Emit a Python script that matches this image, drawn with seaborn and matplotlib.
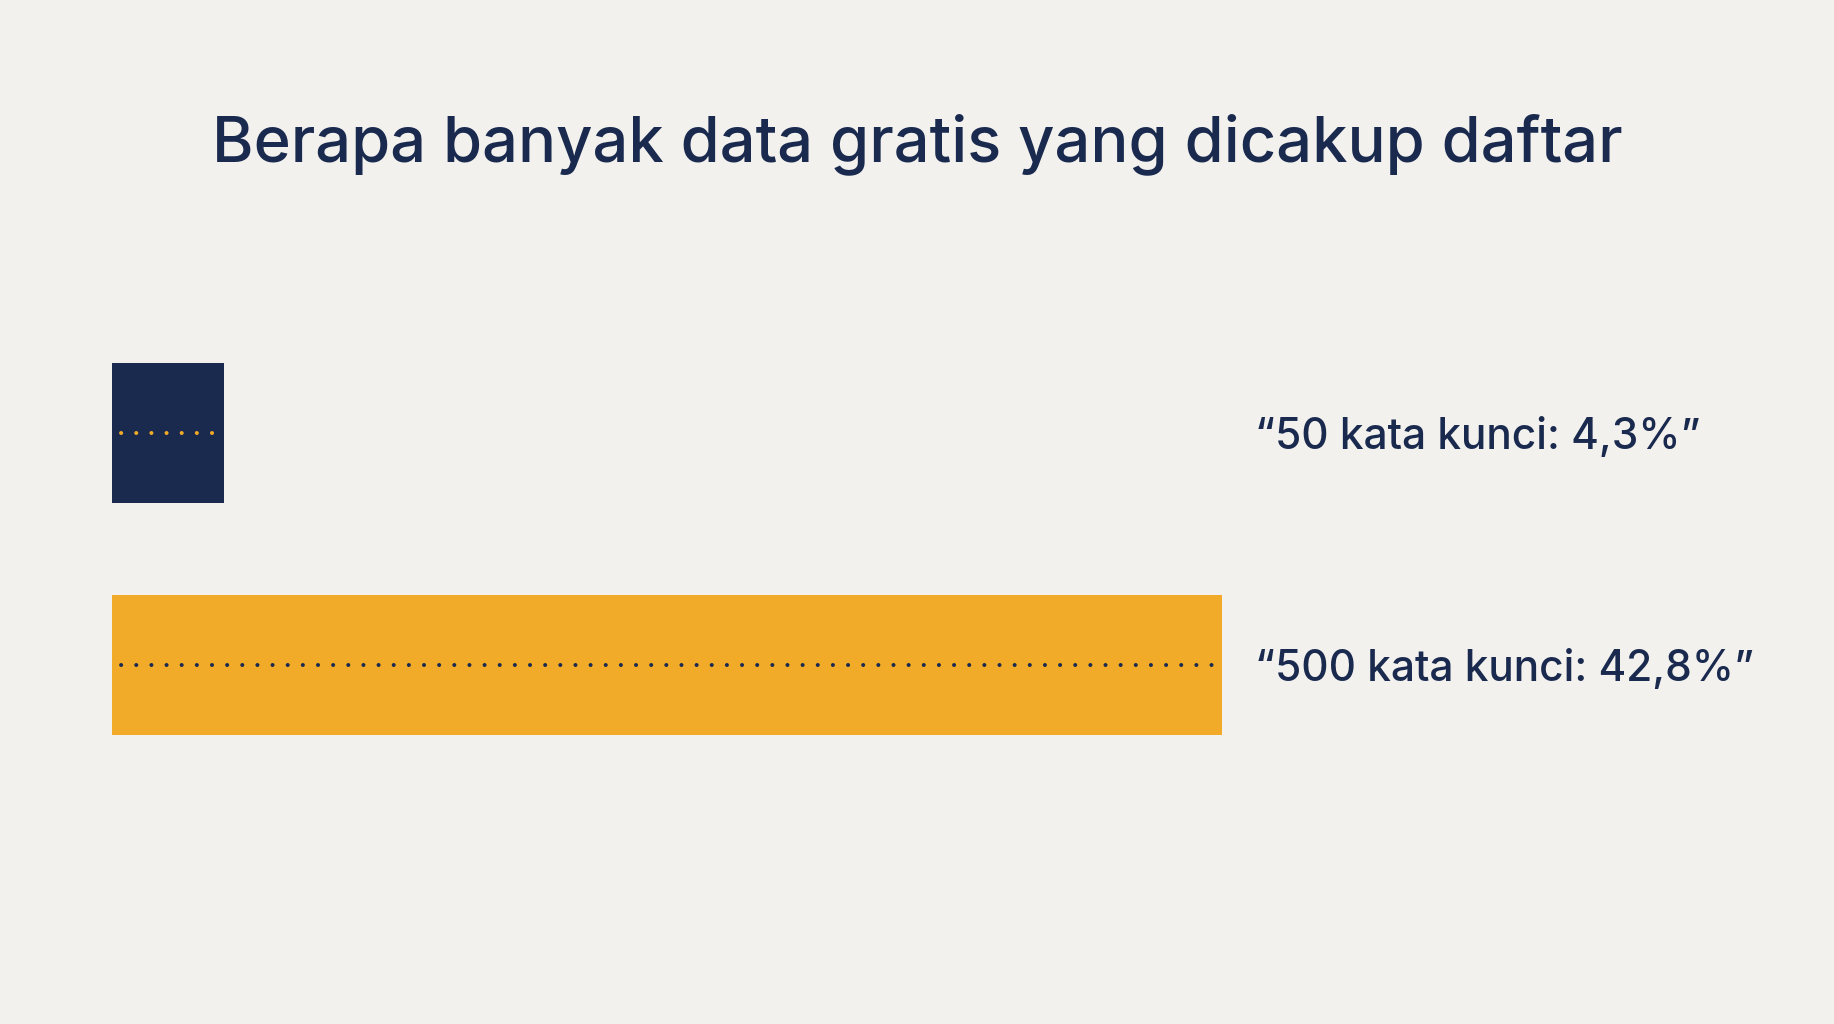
import matplotlib
matplotlib.use("Agg")
import matplotlib.pyplot as plt
import matplotlib.transforms as mtransforms
import seaborn as sns
import pandas as pd

# chart data
categories = ["50 kata kunci", "500 kata kunci"]
coverage_pct = [4.3, 42.8]
value_labels = ["\u201c50 kata kunci: 4,3%\u201d", "\u201c500 kata kunci: 42,8%\u201d"]
title = "Berapa banyak data gratis yang dicakup daftar"

NAVY = "#1a2a4f"
ORANGE = "#f2ab28"
BG = "#f2f1ed"
bar_colors = [NAVY, ORANGE]
dot_colors = [ORANGE, NAVY]

sns.set_theme(style="white")
plt.rcParams["font.family"] = ["Inter", "DejaVu Sans"]

df = pd.DataFrame({"kategori": categories, "persen": coverage_pct})

fig = plt.figure(figsize=(18.34, 10.24), dpi=100, facecolor=BG)
ax = fig.add_axes([112 / 1834, 1 - 781 / 1024, 1110 / 1834, 464 / 1024])
ax.set_facecolor(BG)

sns.barplot(data=df, x="persen", y="kategori", hue="kategori",
            palette=bar_colors, orient="h", width=0.6, legend=False,
            saturation=1, linewidth=0, edgecolor="none", ax=ax)

ax.set_xlim(0, coverage_pct[1])
ax.set_ylim(1.5, -0.5)

# dotted midline inside each bar
for i, (val, dc) in enumerate(zip(coverage_pct, dot_colors)):
    ax.plot([0, val], [i, i], color=dc, linewidth=2.9,
            linestyle=(1.5, (0.01, 3.75)), dash_capstyle="round",
            solid_capstyle="round")

# value labels to the right of the plot area
trans = mtransforms.blended_transform_factory(ax.transAxes, ax.transData)
for i, txt in enumerate(value_labels):
    ax.text(1.03, i, txt, transform=trans, ha="left", va="center_baseline",
            fontsize=30.5, color=NAVY, fontweight="medium", clip_on=False)

fig.text(0.5, 1 - 144 / 1024, title, ha="center", va="center",
         fontsize=45.5, color=NAVY, fontweight="medium")

ax.set_xlabel("")
ax.set_ylabel("")
ax.set_xticks([])
ax.set_yticks([])
sns.despine(ax=ax, left=True, bottom=True)

fig.savefig("out.png", dpi=100, facecolor=BG)
